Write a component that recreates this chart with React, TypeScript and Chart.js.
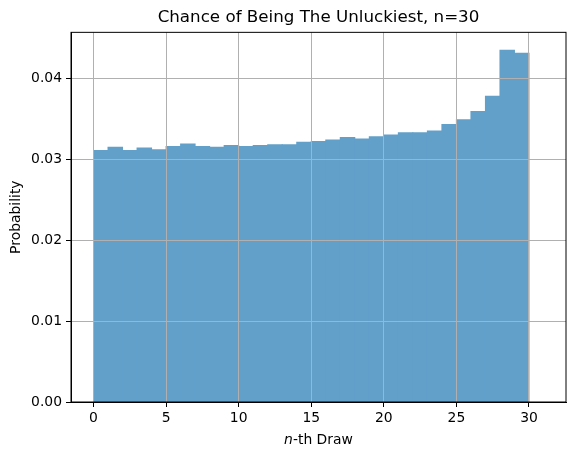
import React, { useEffect, useRef } from 'react';
import { Chart, registerables } from 'chart.js';

Chart.register(...registerables);

// left edge of each histogram bin (bins are 1 wide)
const binStarts = [
  0, 1, 2, 3, 4, 5, 6, 7, 8, 9, 10, 11, 12, 13, 14,
  15, 16, 17, 18, 19, 20, 21, 22, 23, 24, 25, 26, 27, 28, 29,
];

// probability of being the unluckiest per draw position
const probabilities = [
  0.0311, 0.0315, 0.0311, 0.0314, 0.0312, 0.0316, 0.0319, 0.0316, 0.0315, 0.0317,
  0.0316, 0.0317, 0.0318, 0.0318, 0.0321, 0.0322, 0.0324, 0.0327, 0.0325, 0.0328,
  0.0330, 0.0333, 0.0333, 0.0335, 0.0343, 0.0349, 0.0359, 0.0378, 0.0435, 0.0431,
];

const xTicks = [0, 5, 10, 15, 20, 25, 30];
const yTicks = [0, 0.01, 0.02, 0.03, 0.04];

const FONT = 'DejaVu Sans';
const TICK_SIZE = 13.9;

// draws the frame and the axis labels the way matplotlib does
const framePlugin = {
  id: 'frame',
  afterDraw(chart: Chart) {
    const { ctx, chartArea } = chart;
    const { left, right, top, bottom } = chartArea;
    ctx.save();
    ctx.strokeStyle = '#000';
    ctx.lineWidth = 1;
    ctx.strokeRect(left, top, right - left, bottom - top);

    ctx.fillStyle = '#000';
    ctx.textBaseline = 'alphabetic';

    // x label with italic n
    const italic = `italic ${TICK_SIZE}px "${FONT}"`;
    const normal = `${TICK_SIZE}px "${FONT}"`;
    ctx.font = italic;
    const w1 = ctx.measureText('n').width;
    ctx.font = normal;
    const w2 = ctx.measureText('-th Draw').width;
    const cx = (left + right) / 2;
    const startX = cx - (w1 + w2) / 2;
    ctx.textAlign = 'left';
    ctx.font = italic;
    ctx.fillText('n', startX, 443.5);
    ctx.font = normal;
    ctx.fillText('-th Draw', startX + w1, 443.5);

    // y label
    ctx.translate(20.3, (top + bottom) / 2);
    ctx.rotate(-Math.PI / 2);
    ctx.textAlign = 'center';
    ctx.fillText('Probability', 0, 0);
    ctx.restore();
  },
};

const App: React.FC = () => {
  const canvasRef = useRef<HTMLCanvasElement>(null);

  useEffect(() => {
    if (!canvasRef.current) return;
    const chart = new Chart(canvasRef.current, {
      type: 'bar',
      data: {
        datasets: [
          {
            data: binStarts.map((s, i) => ({ x: s + 0.5, y: probabilities[i] })),
            // tab:blue at alpha 0.7 over white
            backgroundColor: '#62a0ca',
            borderWidth: 0,
            inflateAmount: 0.5,
            barPercentage: 1,
            categoryPercentage: 1,
          },
        ],
      },
      options: {
        responsive: true,
        maintainAspectRatio: false,
        animation: false,
        devicePixelRatio: 1,
        layout: { padding: { top: 0, left: 0, right: 10, bottom: 0 } },
        plugins: {
          legend: { display: false },
          tooltip: { enabled: false },
          title: {
            display: true,
            fullSize: false,
            text: 'Chance of Being The Unluckiest, n=30',
            color: '#000',
            font: { family: FONT, size: 16.7, weight: 'normal', lineHeight: 1.2 },
            padding: { top: 8, bottom: 4.3 },
          },
        },
        scales: {
          x: {
            type: 'linear',
            min: -1.55,
            max: 32.55,
            offset: false,
            afterBuildTicks: (scale: any) => {
              scale.ticks = xTicks.map((v) => ({ value: v }));
            },
            afterFit: (scale: any) => {
              scale.height = 54;
            },
            grid: {
              z: 1,
              offset: false,
              color: '#b0b0b0',
              tickColor: '#000',
              tickLength: 5,
              lineWidth: 1,
            },
            border: { color: '#000', width: 1, z: 2 },
            ticks: {
              color: '#000',
              padding: 3,
              maxRotation: 0,
              font: { family: FONT, size: TICK_SIZE },
            },
          },
          y: {
            min: 0,
            max: 0.0457,
            afterBuildTicks: (scale: any) => {
              scale.ticks = yTicks.map((v) => ({ value: v }));
            },
            afterFit: (scale: any) => {
              scale.width = 71;
            },
            grid: {
              z: 1,
              color: '#b0b0b0',
              tickColor: '#000',
              tickLength: 5,
              lineWidth: 1,
            },
            border: { color: '#000', width: 1, z: 2 },
            ticks: {
              color: '#000',
              padding: 4,
              font: { family: FONT, size: TICK_SIZE },
              callback: (v: any) => Number(v).toFixed(2),
            },
          },
        },
      },
      plugins: [framePlugin],
    });
    return () => chart.destroy();
  }, []);

  return (
    <div style={{ position: 'fixed', left: 0, top: 0, width: 576, height: 456, background: '#fff' }}>
      <canvas ref={canvasRef} />
    </div>
  );
};

export default App;
